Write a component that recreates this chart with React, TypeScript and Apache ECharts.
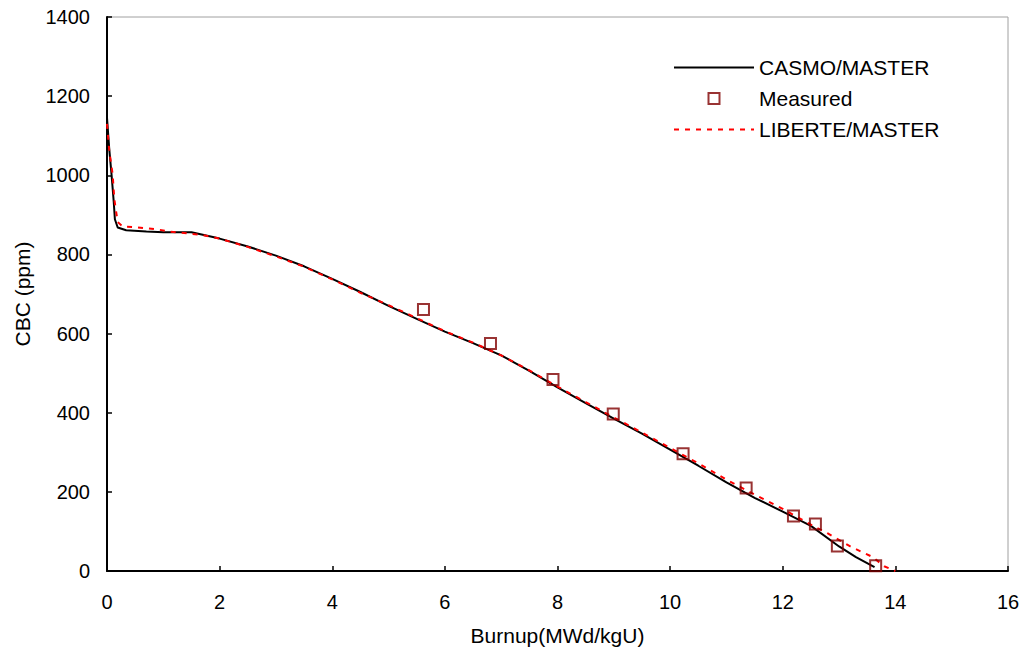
import React, { useEffect, useRef } from "react";
import * as echarts from "echarts";

const xTicks = { min: 0, max: 16, interval: 2 };
const yTicks = { min: 0, max: 1400, interval: 200 };

const casmoMaster: [number, number][] = [
  [0, 1145], [0.04, 1066], [0.08, 1003], [0.12, 932], [0.14, 889], [0.19, 868],
  [0.34, 861], [0.7, 858], [1.0, 856], [1.5, 856], [2.0, 840], [2.5, 820],
  [3.0, 797], [3.5, 770], [4.0, 738], [4.5, 705], [5.0, 670], [5.5, 637],
  [6.0, 605], [6.5, 576], [7.0, 545], [7.5, 506], [8.0, 464], [8.5, 424],
  [9.0, 385], [9.5, 347], [10.0, 307], [10.5, 266], [11.0, 224], [11.5, 185],
  [12.0, 150], [12.5, 114], [13.0, 62], [13.3, 35], [13.63, 10],
];

const measured: [number, number][] = [
  [5.62, 661], [6.81, 575], [7.92, 484], [8.99, 397], [10.23, 296],
  [11.35, 210], [12.19, 139], [12.58, 119], [12.97, 63], [13.65, 13],
];

const liberteMaster: [number, number][] = [
  [0, 1130], [0.04, 1062], [0.1, 1003], [0.13, 940], [0.16, 910], [0.19, 882],
  [0.28, 870], [0.5, 869], [0.9, 863], [1.1, 858], [1.3, 855], [1.7, 849],
  [2.0, 840], [2.5, 819], [3.0, 795], [3.5, 769], [4.0, 737], [4.5, 703],
  [5.0, 672], [5.5, 639], [6.0, 606], [6.5, 577], [7.0, 545], [7.5, 507],
  [8.0, 466], [8.5, 427], [9.0, 388], [9.5, 350], [10.0, 311], [10.5, 272],
  [11.0, 231], [11.5, 193], [12.0, 157], [12.5, 117], [12.8, 95], [13.2, 62],
  [13.6, 35], [13.8, 12], [14.0, 0],
];

const FONT = "'Liberation Sans', Arial, sans-serif";
const SQUARE_ICON = "path://M0,0L10,0L10,10L0,10Z";

export default function App() {
  const ref = useRef<HTMLDivElement>(null);
  useEffect(() => {
    document.body.style.margin = "0";
    const chart = echarts.init(ref.current!, null, { renderer: "svg" });
    chart.setOption({
      animation: false,
      backgroundColor: "#fff",
      textStyle: { fontFamily: FONT, color: "#000" },
      grid: {
        left: 107, top: 17, right: 21, bottom: 86,
        show: true, borderColor: "#a0a0a0", borderWidth: 1,
      },
      legend: {
        orient: "vertical",
        left: 673,
        top: 57,
        padding: 0,
        itemWidth: 80,
        itemHeight: 11,
        itemGap: 10,
        symbolKeepAspect: true,
        textStyle: { fontSize: 21, color: "#000", fontFamily: FONT },
        data: [
          { name: "CASMO/MASTER", itemStyle: { opacity: 0 } },
          {
            name: "Measured",
            icon: SQUARE_ICON,
            itemStyle: { color: "rgba(0,0,0,0)", borderColor: "#800000", borderWidth: 2 },
          },
          { name: "LIBERTE/MASTER", itemStyle: { opacity: 0 } },
        ],
      },
      xAxis: {
        type: "value",
        min: xTicks.min, max: xTicks.max, interval: xTicks.interval,
        name: "Burnup(MWd/kgU)",
        nameLocation: "middle",
        nameGap: 54,
        nameTextStyle: { fontSize: 21, color: "#000", fontFamily: FONT },
        axisLine: { lineStyle: { color: "#000", width: 2 } },
        axisTick: { inside: true, length: 5, lineStyle: { color: "#000", width: 1.5 } },
        axisLabel: { fontSize: 20, color: "#000", margin: 21, fontFamily: FONT },
        splitLine: { show: false },
      },
      yAxis: {
        type: "value",
        min: yTicks.min, max: yTicks.max, interval: yTicks.interval,
        name: "CBC (ppm)",
        nameLocation: "middle",
        nameGap: 74,
        nameTextStyle: { fontSize: 21, color: "#000", fontFamily: FONT },
        axisLine: { show: true, lineStyle: { color: "#000", width: 2 } },
        axisTick: { show: true, inside: true, length: 5, lineStyle: { color: "#000", width: 1.5 } },
        axisLabel: {
          fontSize: 20, color: "#000", margin: 17, fontFamily: FONT,
          formatter: (v: number) => String(v),
        },
        splitLine: { show: false },
      },
      series: [
        {
          name: "CASMO/MASTER",
          type: "line",
          data: casmoMaster,
          showSymbol: false,
          symbol: "none",
          lineStyle: { color: "#000", width: 2 },
          itemStyle: { color: "#000" },
          z: 2,
        },
        {
          name: "Measured",
          type: "scatter",
          data: measured,
          symbol: "rect",
          symbolSize: 11,
          symbolKeepAspect: true,
          itemStyle: { color: "rgba(0,0,0,0)", borderColor: "#800000", borderWidth: 2 },
          z: 4,
        },
        {
          name: "LIBERTE/MASTER",
          type: "line",
          data: liberteMaster,
          showSymbol: false,
          symbol: "none",
          lineStyle: { color: "#ff0000", width: 2, type: [5, 6] },
          itemStyle: { color: "#ff0000" },
          z: 3,
        },
      ],
    });
    return () => chart.dispose();
  }, []);
  return <div ref={ref} style={{ width: 1029, height: 657 }} />;
}
